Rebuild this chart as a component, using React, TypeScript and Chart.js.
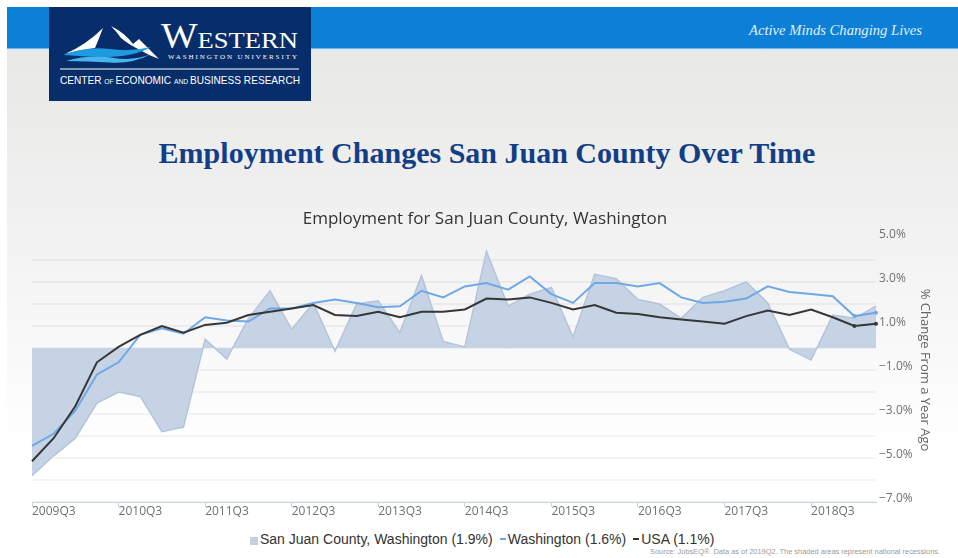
import React, { useEffect, useRef } from 'react';
import { Chart, registerables } from 'chart.js';

Chart.register(...registerables);

const quarters = [
  '2009Q3', '2009Q4', '2010Q1', '2010Q2', '2010Q3', '2010Q4', '2011Q1', '2011Q2',
  '2011Q3', '2011Q4', '2012Q1', '2012Q2', '2012Q3', '2012Q4', '2013Q1', '2013Q2',
  '2013Q3', '2013Q4', '2014Q1', '2014Q2', '2014Q3', '2014Q4', '2015Q1', '2015Q2',
  '2015Q3', '2015Q4', '2016Q1', '2016Q2', '2016Q3', '2016Q4', '2017Q1', '2017Q2',
  '2017Q3', '2017Q4', '2018Q1', '2018Q2', '2018Q3', '2018Q4', '2019Q1', '2019Q2',
];

const sanJuan = [
  -5.8, -4.9, -4.1, -2.5, -2.0, -2.2, -3.8, -3.6, 0.4, -0.5,
  1.35, 2.6, 0.85, 2.05, -0.15, 2.0, 2.15, 0.7, 3.3, 0.3,
  0.05, 4.4, 1.9, 2.45, 2.75, 0.5, 3.35, 3.15, 2.2, 2.0,
  1.35, 2.3, 2.6, 3.0, 2.05, -0.05, -0.55, 1.5, 1.35, 1.9,
];

const washington = [
  -4.45, -3.9, -2.85, -1.2, -0.65, 0.6, 0.9, 0.65, 1.4, 1.25,
  1.2, 1.8, 1.8, 2.05, 2.2, 2.05, 1.85, 1.9, 2.6, 2.3,
  2.8, 2.95, 2.65, 3.25, 2.45, 2.05, 2.95, 2.95, 2.8, 2.95,
  2.3, 2.05, 2.1, 2.25, 2.8, 2.55, 2.45, 2.35, 1.45, 1.6,
];

const usa = [
  -5.15, -4.1, -2.65, -0.65, 0.05, 0.6, 1.0, 0.7, 1.05, 1.15,
  1.5, 1.65, 1.8, 1.95, 1.5, 1.45, 1.65, 1.4, 1.65, 1.65,
  1.75, 2.25, 2.2, 2.3, 2.05, 1.75, 1.95, 1.6, 1.55, 1.4,
  1.3, 1.2, 1.1, 1.45, 1.7, 1.5, 1.75, 1.4, 1.0, 1.1,
];

const legendItems = [
  { label: 'San Juan County, Washington (1.9%)', kind: 'box', color: '#c3d0e1' },
  { label: 'Washington (1.6%)', kind: 'dash', color: '#6fa8e6' },
  { label: 'USA (1.1%)', kind: 'dash', color: '#333333' },
];

const chartTitle = 'Employment for San Juan County, Washington';
const axisTitle = '% Change From a Year Ago';
const slideTitle = 'Employment Changes San Juan County Over Time';
const sourceNote = 'Source: JobsEQ®. Data as of 2019Q2. The shaded areas represent national recessions.';

const markerRadii = (n: number) => {
  const r: number[] = [];
  for (let i = 0; i < n; i++) r.push(i >= n - 2 ? 2 : 0);
  return r;
};

export default function App() {
  const canvasRef = useRef<HTMLCanvasElement | null>(null);

  useEffect(() => {
    if (!canvasRef.current) return;
    const font = "'Open Sans', 'DejaVu Sans', sans-serif";
    const chart = new Chart(canvasRef.current, {
      type: 'line',
      data: {
        labels: quarters,
        datasets: [
          {
            label: 'USA',
            data: usa,
            borderColor: '#363636',
            backgroundColor: '#363636',
            borderWidth: 2,
            pointRadius: markerRadii(usa.length),
            pointBorderWidth: 0,
            fill: false,
            tension: 0,
            order: 1,
          },
          {
            label: 'Washington',
            data: washington,
            borderColor: '#6fa8e6',
            backgroundColor: '#6fa8e6',
            borderWidth: 2,
            pointRadius: markerRadii(washington.length),
            pointBorderWidth: 0,
            fill: false,
            tension: 0,
            order: 2,
          },
          {
            label: 'San Juan County, Washington',
            data: sanJuan,
            borderColor: '#b3c5db',
            backgroundColor: '#c5d3e4',
            borderWidth: 1.5,
            pointRadius: 0,
            fill: 'origin',
            tension: 0,
            order: 3,
          },
        ],
      },
      options: {
        animation: false,
        responsive: false,
        maintainAspectRatio: false,
        layout: { padding: { left: 32, right: 0, top: 0, bottom: 0 } },
        plugins: {
          legend: { display: false },
          tooltip: { enabled: false },
          title: {
            display: true,
            text: chartTitle,
            color: '#333333',
            font: { family: font, size: 17, weight: 'normal' },
            padding: { top: 18.5, bottom: 9.1 },
          },
        },
        scales: {
          x: {
            type: 'category',
            offset: false,
            afterFit: (s: any) => { s.height = 18; },
            border: { display: true, color: '#c8d4e6', width: 1 },
            grid: {
              display: true,
              drawOnChartArea: false,
              drawTicks: true,
              tickLength: 5,
              color: (ctx: any) => (ctx.index % 4 === 0 ? '#c8d4e6' : 'rgba(0,0,0,0)'),
            },
            ticks: {
              autoSkip: false,
              maxRotation: 0,
              minRotation: 0,
              align: 'start',
              padding: -3,
              color: '#707070',
              font: { family: font, size: 12 },
              callback: (_v: any, i: number) => (i % 4 === 0 ? quarters[i] : ''),
            },
          },
          y: {
            type: 'linear',
            position: 'right',
            min: -7,
            max: 5,
            afterFit: (s: any) => { s.width = 62; },
            border: { display: false },
            grid: {
              drawTicks: false,
              lineWidth: 2,
              color: (ctx: any) => (ctx.tick && ctx.tick.value === 5 ? 'rgba(0,0,0,0)' : 'rgba(0,0,0,0.045)'),
            },
            ticks: {
              stepSize: 1,
              padding: 3,
              labelOffset: -3,
              color: '#707070',
              font: { family: font, size: 12 },
              callback: (v: any) => {
                const n = Number(v);
                if (Math.abs(n % 2) !== 1) return '';
                return (n < 0 ? '\u2212' : '') + Math.abs(n).toFixed(1) + '%';
              },
            },
            title: {
              display: true,
              text: axisTitle,
              color: '#666666',
              font: { family: font, size: 13 },
              padding: { top: 5.2, bottom: 0 },
            },
          },
        },
      },
    } as any);
    return () => chart.destroy();
  }, []);

  return (
    <div style={{ position: 'relative', width: 958, height: 558, overflow: 'hidden', background: '#ffffff' }}>
      <style>{'body{margin:0;}'}</style>
      <div
        style={{
          position: 'absolute', left: 7, top: 51, width: 951, height: 507,
          background: 'linear-gradient(#e8e8e5 0%, #f0f0f0 30%, #f6f6f6 50%, #ffffff 78%)',
        }}
      />
      <svg width={958} height={200} style={{ position: 'absolute', left: 0, top: 0 }}>
        <rect x={7} y={7} width={951} height={42} fill="#0b80d6" />
        <rect x={7} y={48.5} width={951} height={2.5} fill="#dceaf6" />
        <rect x={49} y={7} width={262} height={94} fill="#072e6a" />
        <path d="M65,54 Q86,45 103,28 Q98,41 95,48 Q80,50 65,54 Z" fill="#ffffff" />
        <path d="M111,26 Q125,33 133,44 L139,39 Q150,50 159,59 Q148,55 140,50 Q128,44 121,38 Q116,31 111,26 Z" fill="#ffffff" />
        <path d="M63,55 Q86,46 110,49 Q131,52 151,47 Q136,56 110,57 Q87,57 63,55 Z" fill="#1f9ae0" />
        <path d="M66,61 Q90,54 114,58 Q134,61 151,54 Q133,64 110,62.5 Q88,61 66,61 Z" fill="#45b6ee" />
        <text x={161} y={48} fill="#ffffff" fontFamily="'Liberation Serif', serif" textLength={137} lengthAdjust="spacingAndGlyphs">
          <tspan fontSize={35}>W</tspan>
          <tspan fontSize={24}>ESTERN</tspan>
        </text>
        <text x={168} y={58.5} fill="#ffffff" fontFamily="'Liberation Serif', serif" fontSize={7} textLength={129} lengthAdjust="spacing">
          WASHINGTON UNIVERSITY
        </text>
        <line x1={60} x2={299} y1={69} y2={69} stroke="#ffffff" strokeWidth={1} />
        <text x={60} y={83.5} fill="#ffffff" fontFamily="'Liberation Sans Narrow', 'Liberation Sans', sans-serif" fontSize={10.5} textLength={240} lengthAdjust="spacingAndGlyphs">
          <tspan>CENTER </tspan>
          <tspan fontSize={7}>OF </tspan>
          <tspan>ECONOMIC </tspan>
          <tspan fontSize={7}>AND </tspan>
          <tspan>BUSINESS RESEARCH</tspan>
        </text>
        <text x={749} y={35} fill="#e3effa" fontFamily="'Liberation Serif', serif" fontStyle="italic" fontSize={15} textLength={173} lengthAdjust="spacingAndGlyphs">
          Active Minds Changing Lives
        </text>
        <text x={487} y={162.7} textAnchor="middle" fill="#123e88" fontFamily="'Liberation Serif', 'Times New Roman', serif" fontWeight="bold" fontSize={30}>
          {slideTitle}
        </text>
      </svg>
      <canvas ref={canvasRef} width={938} height={330} style={{ position: 'absolute', left: 0, top: 190 }} />
      <div
        style={{
          position: 'absolute', left: 250, top: 529, height: 20, display: 'flex', alignItems: 'center',
          fontFamily: "'Liberation Sans', Arial, sans-serif", fontSize: 14, color: '#333333', whiteSpace: 'nowrap',
        }}
      >
        {legendItems.map((it, i) => (
          <div key={it.label} style={{ display: 'flex', alignItems: 'center', marginLeft: i === 0 ? 0 : 7 }}>
            {it.kind === 'box' ? (
              <span style={{ display: 'inline-block', width: 8, height: 8, background: it.color, marginRight: 2, marginTop: 4 }} />
            ) : (
              <span style={{ display: 'inline-block', width: 6, height: 2, background: it.color, marginRight: 2 }} />
            )}
            <span>{it.label}</span>
          </div>
        ))}
      </div>
      <svg width={958} height={20} style={{ position: 'absolute', left: 0, top: 542 }}>
        <text x={650} y={12} fill="#9a9a9a" fontFamily="'Liberation Sans Narrow', 'Liberation Sans', sans-serif" fontSize={8} textLength={290} lengthAdjust="spacingAndGlyphs">
          {sourceNote}
        </text>
      </svg>
    </div>
  );
}
